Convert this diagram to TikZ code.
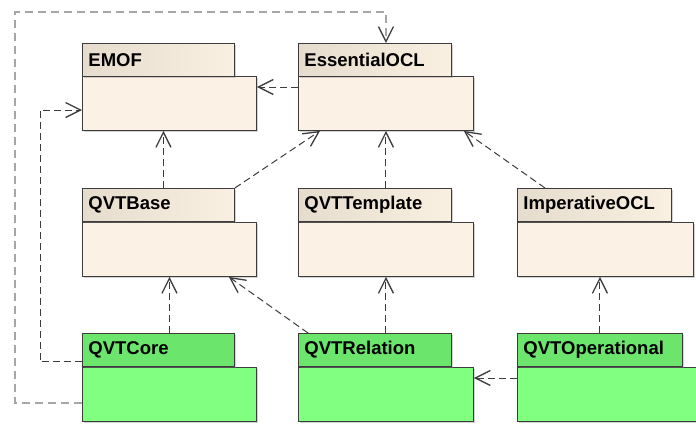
\documentclass[tikz,border=0pt]{standalone}
\usepackage{fontspec}
\setmainfont{Liberation Sans}
\usepackage{tikz}
\usetikzlibrary{arrows.meta}
\usetikzlibrary{shadows}
\definecolor{pkgline}{HTML}{3C3C3C}
\definecolor{tableft}{HTML}{E6DCCD}
\definecolor{tabright}{HTML}{FAF0E2}
\definecolor{bodyfill}{HTML}{FBF1E4}
\definecolor{greentab}{HTML}{6CE56C}
\definecolor{greenbody}{HTML}{80FF80}
\definecolor{outerline}{HTML}{A6A6A6}
\tikzset{
  pkgtab/.style={draw=pkgline, line width=0.9pt, anchor=north west,
    left color=tableft, right color=tabright, minimum height=33pt,
    inner xsep=6pt, text width=#1, align=left,
    font=\fontsize{18.5}{21}\selectfont\bfseries,
    drop shadow={shadow xshift=1.5pt, shadow yshift=-1.5pt, opacity=.35}},
  pkgbody/.style={draw=pkgline, line width=0.9pt, anchor=north west,
    fill=bodyfill, minimum width=#1, minimum height=54pt,
    drop shadow={shadow xshift=1.5pt, shadow yshift=-1.5pt, opacity=.35}},
  greentab/.style={pkgtab=#1, left color=greentab, right color=greentab},
  greenbody/.style={pkgbody=#1, fill=greenbody},
  dep/.style={draw=pkgline, line width=1pt, dash pattern=on 7pt off 4pt,
    -{Straight Barb[length=15pt,width=15pt,line width=1.3pt,color=pkgline]}},
  outerdep/.style={dep, draw=outerline, line width=1.6pt,
    dash pattern=on 8pt off 5pt}
}
\begin{document}
\begin{tikzpicture}[x=1pt,y=-1pt]
\useasboundingbox[fill=white] (0,0) rectangle (696,423);
% top row
\node[pkgbody=174pt] (emof) at (82,76) {};
\node[pkgtab=140pt] (emof-t) at (82,43) {EMOF};
\node[pkgbody=175pt] (essocl) at (298,76) {};
\node[pkgtab=141pt] (essocl-t) at (298,43) {EssentialOCL};
% middle row
\node[pkgbody=174pt] (qvtbase) at (82,222) {};
\node[pkgtab=140pt] (qvtbase-t) at (82,188) {QVTBase};
\node[pkgbody=175pt] (qvttemplate) at (298,222) {};
\node[pkgtab=141pt] (qvttemplate-t) at (298,188) {QVTTemplate};
\node[pkgbody=176pt] (impocl) at (517,222) {};
\node[pkgtab=142pt] (impocl-t) at (517,188) {ImperativeOCL};
% bottom row
\node[greenbody=174pt] (qvtcore) at (82,367) {};
\node[greentab=140pt] (qvtcore-t) at (82,333) {QVTCore};
\node[greenbody=175pt] (qvtrel) at (298,367) {};
\node[greentab=141pt] (qvtrel-t) at (298,333) {QVTRelation};
\node[greenbody=187pt] (qvtop) at (517,367) {};
\node[greentab=153pt] (qvtop-t) at (517,333) {QVTOperational};
% dependencies
\draw[dep] ([yshift=-11pt]essocl.north west) -- ([yshift=-11pt]emof.north east);
\draw[dep] ([xshift=-6pt]qvtbase-t.north -| emof.south) -- ([xshift=-6pt]emof.south);
\draw[dep] (qvtbase-t.north east) -- ([xshift=22pt]essocl.south west);
\draw[dep] (qvttemplate-t.north -| qvttemplate.north) -- (essocl.south);
\draw[dep] ([xshift=28pt]impocl-t.north west) -- ([xshift=-10pt]essocl.south east);
\draw[dep] (qvtcore-t.north -| qvtbase.south) -- (qvtbase.south);
\draw[dep] ([xshift=10pt]qvtrel-t.north west) -- ([xshift=-28pt]qvtbase.south east);
\draw[dep] (qvtrel-t.north -| qvttemplate.south) -- (qvttemplate.south);
\draw[dep] (qvtop-t.north) -- (qvtop-t.north |- impocl.south);
\draw[dep] ([yshift=-11pt]qvtop.north west) -- ([yshift=-11pt]qvtrel.north east);
\draw[dep] ([yshift=5pt]qvtcore-t.south west) -- ++(-42,0) |- ([yshift=-34pt]emof.north west);
\draw[outerdep] ([yshift=-36pt]qvtcore.north west) -| (15,12) -| (essocl-t.north -| essocl.north);
\end{tikzpicture}
\end{document}
